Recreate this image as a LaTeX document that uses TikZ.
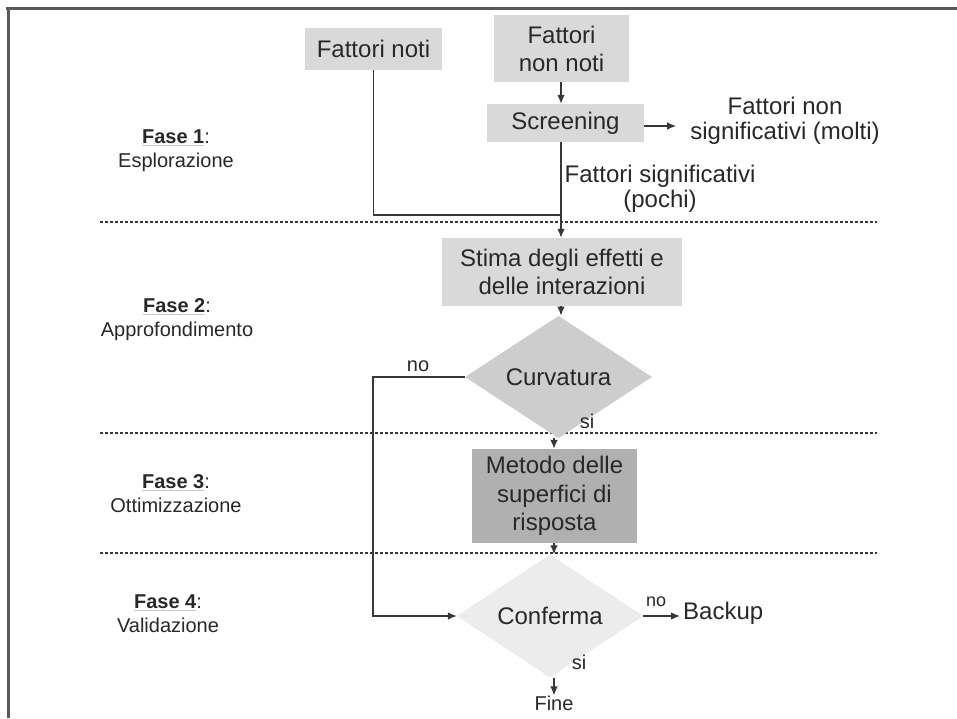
\documentclass[tikz,border=0pt]{standalone}
\usepackage{fontspec}
\setmainfont{Liberation Sans}
\usetikzlibrary{shapes.geometric,arrows.meta}
\definecolor{txt}{RGB}{40,40,40}
\definecolor{boxg}{RGB}{217,217,217}
\definecolor{curvg}{RGB}{205,205,205}
\definecolor{metg}{RGB}{176,176,176}
\definecolor{confg}{RGB}{236,236,236}
\definecolor{lineg}{RGB}{55,55,55}
\definecolor{frameg}{RGB}{90,90,90}
\newcommand{\fasetitle}[1]{{\color{gray!45}\underline{\color{txt}\textbf{#1}}}:}
\begin{document}
\begin{tikzpicture}[x=1pt,y=-1pt,
 box/.style={rectangle, fill=boxg, inner sep=0pt, align=center, font=\fontsize{24}{28}\selectfont, text=txt},
 dec/.style={diamond, inner sep=0pt, font=\fontsize{24}{29}\selectfont, text=txt},
 lab/.style={font=\fontsize{20}{24}\selectfont, text=txt, align=center, inner sep=0pt},
 big/.style={font=\fontsize{24}{25}\selectfont, text=txt, align=center, inner sep=0pt},
 fase/.style={font=\fontsize{20}{24}\selectfont, text=txt, align=center, inner sep=0pt},
 conn/.style={draw=lineg, line width=1.3pt},
 arr/.style={conn, -{Latex[length=9pt,width=7.5pt]}},
 sep/.style={draw=lineg, line width=1.2pt, dash pattern=on 3pt off 2pt}]

\useasboundingbox (0,0) rectangle (957,718);
\fill[white] (0,0) rectangle (957,718);

% frame
\draw[line width=3pt, frameg] (6,8) -- (957,8);
\draw[line width=3pt, frameg] (8,8) -- (8,718);

% separators
\draw[sep] (100,222) -- (877,222);
\draw[sep] (100,433) -- (877,433);
\draw[sep] (100,553) -- (877,553);

% phase labels
\node[fase] (f1) at (176,151) {\fasetitle{Fase 1}\\Esplorazione};
\node[fase] (f2) at (177,320) {\fasetitle{Fase 2}\\Approfondimento};
\node[fase] (f3) at (176,494) {\fasetitle{Fase 3}\\Ottimizzazione};
\node[fase] (f4) at (168,614) {\fasetitle{Fase 4}\\Validazione};

% nodes
\node[box, minimum width=137, minimum height=42] (fn) at (373.5,49) {Fattori noti};
\node[box, minimum width=135, minimum height=67] (fnn) at (561.5,48.5) {Fattori\\non noti};
\node[box, minimum width=157, minimum height=38] (scr) at (565.5,123) {Screening};
\node[big] (fns) at (785,121) {Fattori non\\significativi (molti)};
\node[big] (fs) at (660,189) {Fattori significativi\\(pochi)};
\node[box, minimum width=240, minimum height=68] (stima) at (562,272) {Stima degli effetti e\\delle interazioni};
\node[dec, fill=curvg, minimum width=187, minimum height=96] (curv) at (558.5,377) {Curvatura};
\node[box, fill=metg, minimum width=165, minimum height=94, font=\fontsize{24}{28.5}\selectfont] (met) at (554.5,496) {Metodo delle\\superfici di\\risposta};
\node[dec, fill=confg, minimum width=186, minimum height=98] (conf) at (550,616) {Conferma};
\node[big, anchor=west] (backup) at (683,613) {Backup};
\node[lab] (fine) at (554,703) {Fine};

% small labels
\node[lab] (no1) at (418,366) {no};
\node[lab] (si1) at (587,421) {si};
\node[lab, font=\fontsize{18}{20}\selectfont] (no2) at (656,602) {no};
\node[lab] (si2) at (579,662) {si};

% axes
\coordinate (ax1) at (561,0);
\coordinate (ax2) at (554,0);
\coordinate (lp) at (373,0);
\coordinate (j) at (561,215);

% connectors
\draw[arr] (ax1 |- fnn.south) -- (ax1 |- scr.north);
\draw[arr] ([yshift=-3pt]scr.east) -- ([yshift=-3pt]scr.east -| fns.west) [shorten >=14pt];
\draw[conn] (fn.south) |- (j);
\draw[arr] (ax1 |- scr.south) -- (ax1 |- stima.north);
\draw[arr] (ax1 |- stima.south) -- (ax1 |- curv.north);
\draw[arr] (ax2 |- curv.south) -- (ax2 |- met.north);
\draw[arr] (ax2 |- met.south) -- (ax2 |- conf.north);
\draw[arr] (ax2 |- conf.south) -- (fine.north);
\draw[arr] (curv.west) -- (curv.west -| lp) |- (conf.west);
\draw[arr, shorten >=3pt] (conf.east) -- (conf.east -| backup.west);
\end{tikzpicture}
\end{document}
